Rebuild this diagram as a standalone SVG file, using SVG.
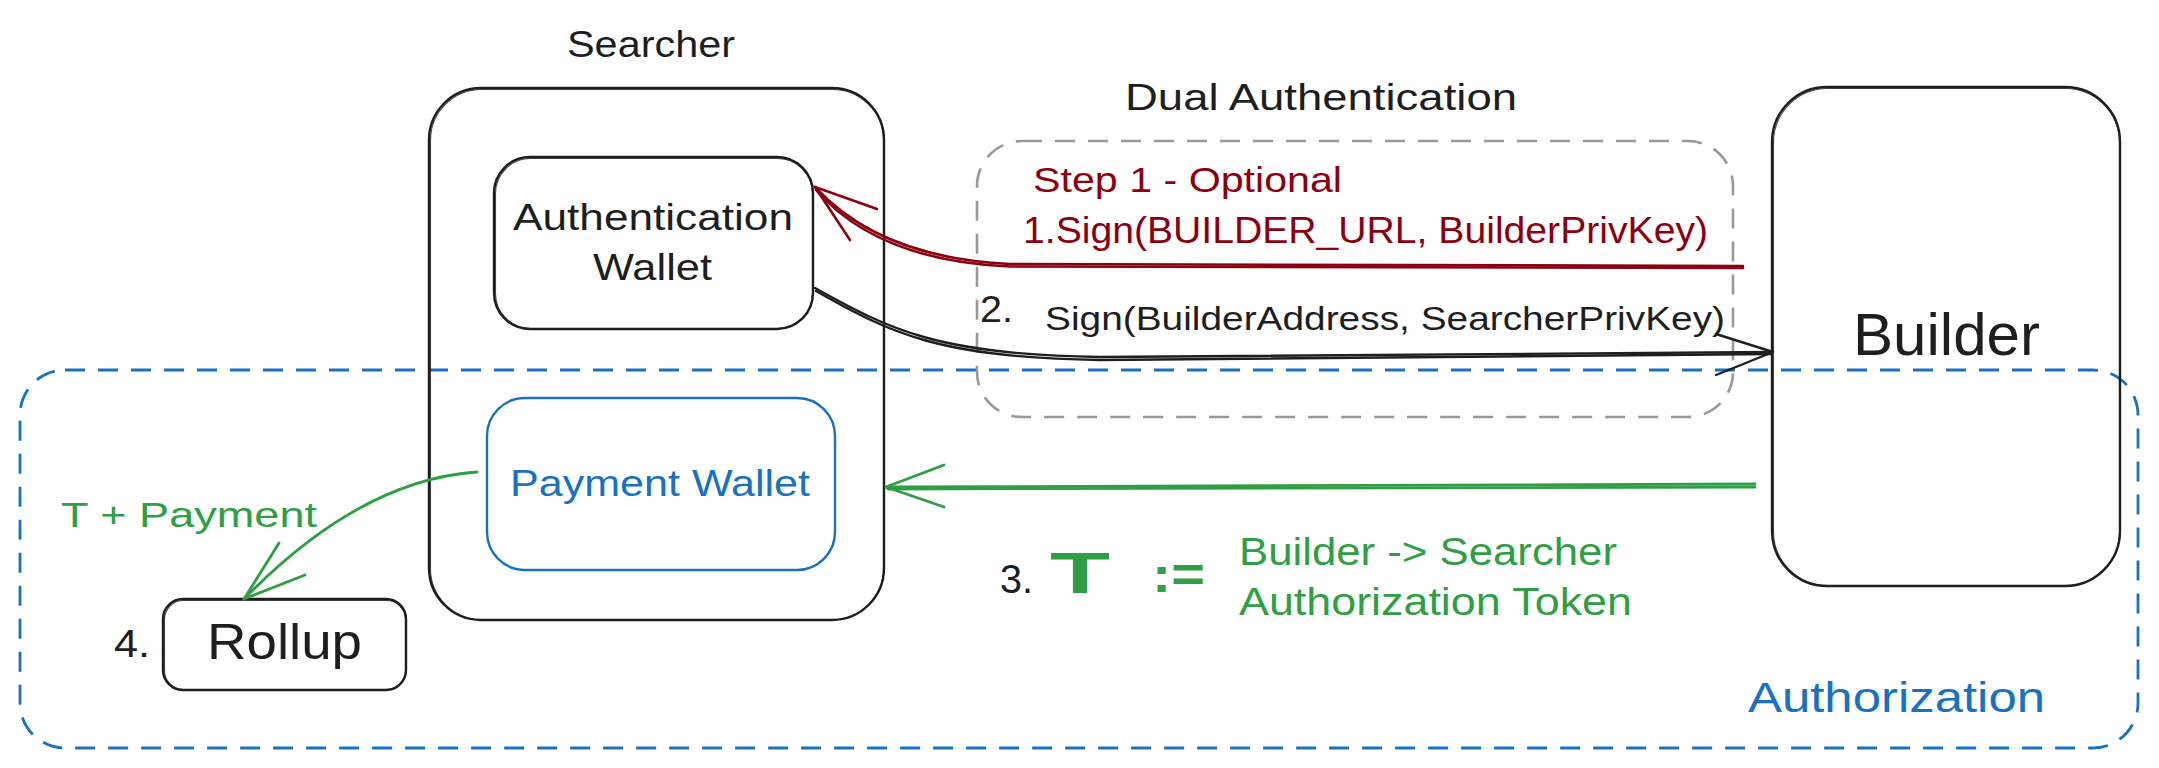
<svg xmlns="http://www.w3.org/2000/svg" width="2159" height="768" viewBox="0 0 2159 768">
<defs>
<style>
text{font-family:"Liberation Sans",Arial,sans-serif;}
.k{fill:#1e1e1e;}
.r{fill:#8b0010;}
.g{fill:#2f9e44;}
.b{fill:#1971c2;}
.box{fill:none;stroke:#1e1e1e;stroke-width:2.4;}
.box2{fill:none;stroke:#1e1e1e;stroke-width:1.1;opacity:0.8;}
.bbox{fill:none;stroke:#1971c2;stroke-width:2.4;}
.dashg{fill:none;stroke:#999999;stroke-width:2.6;stroke-dasharray:20 13;}
.dashb{fill:none;stroke:#1971c2;stroke-width:2.8;stroke-dasharray:20 13;}
.ar{fill:none;stroke:#8b0010;stroke-width:2.6;stroke-linecap:round;stroke-linejoin:round;}
.ak{fill:none;stroke:#1e1e1e;stroke-width:2.4;stroke-linecap:round;stroke-linejoin:round;}
.ag{fill:none;stroke:#2f9e44;stroke-width:2.8;stroke-linecap:round;stroke-linejoin:round;}
</style>
</defs>
<rect width="2159" height="768" fill="#ffffff"/>

<g id="authorization-region">
<rect class="dashb" x="20" y="370" width="2118" height="378" rx="45"/>
<text class="b" x="1748" y="712" font-size="42" textLength="297" lengthAdjust="spacingAndGlyphs">Authorization</text>
</g>

<g id="dual-authentication-region">
<rect class="dashg" x="977" y="141" width="756" height="276" rx="45"/>
<text class="k" x="1125" y="110" font-size="36" textLength="392" lengthAdjust="spacingAndGlyphs">Dual Authentication</text>
</g>

<g id="searcher">
<text class="k" x="567" y="57" font-size="36" textLength="168" lengthAdjust="spacingAndGlyphs">Searcher</text>
<rect class="box" x="429" y="88" width="455" height="532" rx="52"/>
<rect class="box2" x="430.5" y="89.5" width="453" height="530" rx="51"/>
</g>

<g id="authentication-wallet">
<rect class="box" x="494" y="157" width="319" height="172" rx="36"/>
<rect class="box2" x="495.5" y="158.5" width="317" height="170" rx="35"/>
<text class="k" x="513" y="230" font-size="37" textLength="280" lengthAdjust="spacingAndGlyphs">Authentication</text>
<text class="k" x="593" y="280" font-size="37" textLength="119" lengthAdjust="spacingAndGlyphs">Wallet</text>
</g>

<g id="payment-wallet">
<rect class="bbox" x="487" y="398" width="348" height="172" rx="38"/>
<text class="b" x="510" y="496" font-size="37" textLength="300" lengthAdjust="spacingAndGlyphs">Payment Wallet</text>
</g>

<g id="builder">
<rect class="box" x="1772" y="87" width="348" height="499" rx="55"/>
<rect class="box2" x="1773.5" y="88.5" width="346" height="497" rx="54"/>
<text class="k" x="1853" y="355" font-size="60" textLength="187" lengthAdjust="spacingAndGlyphs">Builder</text>
</g>

<g id="rollup">
<rect class="box" x="163" y="599" width="243" height="91" rx="20"/>
<rect class="box2" x="164.5" y="600.5" width="241" height="89" rx="19"/>
<text class="k" x="207" y="659" font-size="50" textLength="155" lengthAdjust="spacingAndGlyphs">Rollup</text>
<text class="k" x="114" y="657" font-size="38" textLength="36" lengthAdjust="spacingAndGlyphs">4.</text>
</g>

<g id="connectors">
<path class="ar" d="M1743,266 L1010,264 Q880,258 815,187"/>
<path class="ar" d="M1743,268 L1010,266.5 Q878,261 816,190" stroke-width="1.2"/>
<path class="ar" d="M877,209 L815,187 L850,240"/>
<path class="ak" d="M815,288 C890,330 940,355 1100,357 L1773,352"/>
<path class="ak" d="M816,291 C890,333 940,358 1100,360 L1772,354" stroke-width="1.1"/>
<path class="ak" d="M1716,334 L1773,352 L1716,375"/>
<path class="ag" d="M1755,484 L886,487"/>
<path class="ag" d="M1755,487 L888,489" stroke-width="1.2"/>
<path class="ag" d="M944,465 L886,487 L944,507"/>
<path class="ag" d="M477,472 Q360,480 244,599"/>
<path class="ag" d="M279,543 L244,599 L305,575"/>
</g>

<g id="labels">
<text class="r" x="1033" y="192" font-size="35" textLength="309" lengthAdjust="spacingAndGlyphs">Step 1 - Optional</text>
<text class="r" x="1023" y="243" font-size="36" textLength="685" lengthAdjust="spacingAndGlyphs">1.Sign(BUILDER_URL, BuilderPrivKey)</text>
<text class="k" x="980" y="322" font-size="36" textLength="33" lengthAdjust="spacingAndGlyphs">2.</text>
<text class="k" x="1045" y="330" font-size="33" textLength="680" lengthAdjust="spacingAndGlyphs">Sign(BuilderAddress, SearcherPrivKey)</text>
<text class="g" x="61" y="527" font-size="35" textLength="256" lengthAdjust="spacingAndGlyphs">T + Payment</text>
<text class="k" x="1000" y="593" font-size="40" textLength="33" lengthAdjust="spacingAndGlyphs">3.</text>
<text class="g" x="1050" y="593" font-size="58" font-weight="bold" textLength="60" lengthAdjust="spacingAndGlyphs">T</text>
<text class="g" x="1152" y="592" font-size="50" font-weight="bold" textLength="53" lengthAdjust="spacingAndGlyphs">:=</text>
<text class="g" x="1239" y="565" font-size="38" textLength="378" lengthAdjust="spacingAndGlyphs">Builder -&gt; Searcher</text>
<text class="g" x="1239" y="615" font-size="38" textLength="393" lengthAdjust="spacingAndGlyphs">Authorization Token</text>
</g>
</svg>
